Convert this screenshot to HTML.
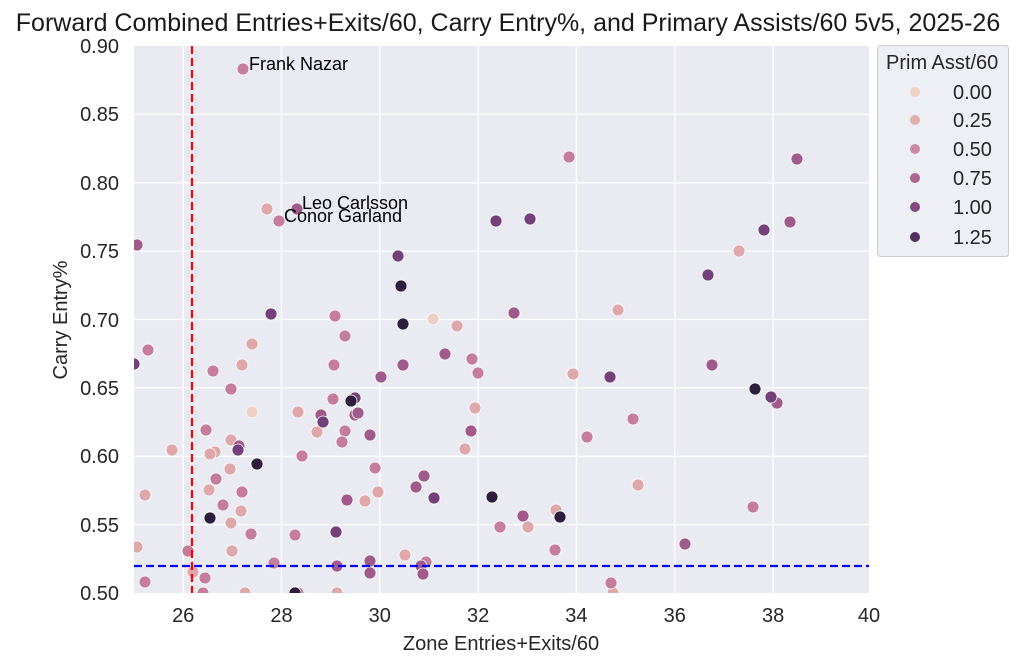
<!DOCTYPE html>
<html><head><meta charset="utf-8"><style>body{margin:0;background:#fff}svg{display:block;font-family:"Liberation Sans",Arial,sans-serif}</style></head><body>
<svg width="1024" height="669" xmlns="http://www.w3.org/2000/svg">
<rect width="1024" height="669" fill="#fff"/>
<text x="508" y="31" font-size="25" text-anchor="middle" fill="#1a1a1a">Forward Combined Entries+Exits/60, Carry Entry%, and Primary Assists/60 5v5, 2025-26</text>
<rect x="134" y="46" width="735" height="547" fill="#eaeaf2"/>
<g stroke="#fff" stroke-width="1.3">
<line x1="183.2" y1="46" x2="183.2" y2="593"/><line x1="281.5" y1="46" x2="281.5" y2="593"/><line x1="379.8" y1="46" x2="379.8" y2="593"/><line x1="478.1" y1="46" x2="478.1" y2="593"/><line x1="576.4" y1="46" x2="576.4" y2="593"/><line x1="674.8" y1="46" x2="674.8" y2="593"/><line x1="773.1" y1="46" x2="773.1" y2="593"/>
<line x1="134" y1="114.4" x2="869" y2="114.4"/><line x1="134" y1="182.8" x2="869" y2="182.8"/><line x1="134" y1="251.1" x2="869" y2="251.1"/><line x1="134" y1="319.5" x2="869" y2="319.5"/><line x1="134" y1="387.9" x2="869" y2="387.9"/><line x1="134" y1="456.3" x2="869" y2="456.3"/><line x1="134" y1="524.6" x2="869" y2="524.6"/>
</g>
<svg x="134" y="46" width="735" height="547" viewBox="134 46 735 547" overflow="hidden">
<g stroke="#fff" stroke-width="0.8">
<g fill="#edd0c5"><circle cx="252" cy="412" r="6"/><circle cx="433" cy="319" r="6"/></g>
<g fill="#dea8aa"><circle cx="267" cy="209" r="6"/><circle cx="172" cy="450" r="6"/><circle cx="145" cy="495" r="6"/><circle cx="137" cy="547" r="6"/><circle cx="193" cy="572" r="6"/><circle cx="245" cy="593" r="6"/><circle cx="337" cy="593" r="6"/><circle cx="613" cy="593" r="6"/><circle cx="252" cy="344" r="6"/><circle cx="242" cy="365" r="6"/><circle cx="231" cy="440" r="6"/><circle cx="215" cy="452" r="6"/><circle cx="210" cy="454" r="6"/><circle cx="209" cy="490" r="6"/><circle cx="230" cy="469" r="6"/><circle cx="231" cy="523" r="6"/><circle cx="241" cy="511" r="6"/><circle cx="232" cy="551" r="6"/><circle cx="298" cy="412" r="6"/><circle cx="317" cy="432" r="6"/><circle cx="365" cy="501" r="6"/><circle cx="378" cy="492" r="6"/><circle cx="405" cy="555" r="6"/><circle cx="457" cy="326" r="6"/><circle cx="475" cy="408" r="6"/><circle cx="465" cy="449" r="6"/><circle cx="573" cy="374" r="6"/><circle cx="618" cy="310" r="6"/><circle cx="638" cy="485" r="6"/><circle cx="556" cy="510" r="6"/><circle cx="528" cy="527" r="6"/><circle cx="739" cy="251" r="6"/></g>
<g fill="#c47e9b"><circle cx="243" cy="69" r="6"/><circle cx="279" cy="221" r="6"/><circle cx="148" cy="350" r="6"/><circle cx="145" cy="582" r="6"/><circle cx="188" cy="551" r="6"/><circle cx="205" cy="578" r="6"/><circle cx="203" cy="593" r="6"/><circle cx="298" cy="593" r="6"/><circle cx="611" cy="583" r="6"/><circle cx="213" cy="371" r="6"/><circle cx="231" cy="389" r="6"/><circle cx="206" cy="430" r="6"/><circle cx="216" cy="479" r="6"/><circle cx="223" cy="505" r="6"/><circle cx="242" cy="492" r="6"/><circle cx="251" cy="534" r="6"/><circle cx="274" cy="563" r="6"/><circle cx="302" cy="456" r="6"/><circle cx="295" cy="535" r="6"/><circle cx="335" cy="316" r="6"/><circle cx="345" cy="336" r="6"/><circle cx="334" cy="365" r="6"/><circle cx="333" cy="399" r="6"/><circle cx="345" cy="431" r="6"/><circle cx="342" cy="442" r="6"/><circle cx="375" cy="468" r="6"/><circle cx="426" cy="562" r="6"/><circle cx="472" cy="359" r="6"/><circle cx="478" cy="373" r="6"/><circle cx="500" cy="527" r="6"/><circle cx="569" cy="157" r="6"/><circle cx="587" cy="437" r="6"/><circle cx="633" cy="419" r="6"/><circle cx="555" cy="550" r="6"/><circle cx="753" cy="507" r="6"/></g>
<g fill="#a05b8b"><circle cx="297" cy="209" r="6"/><circle cx="137" cy="245" r="6"/><circle cx="239" cy="446" r="6"/><circle cx="321" cy="415" r="6"/><circle cx="355" cy="415" r="6"/><circle cx="358" cy="413" r="6"/><circle cx="370" cy="435" r="6"/><circle cx="347" cy="500" r="6"/><circle cx="337" cy="566" r="6"/><circle cx="370" cy="561" r="6"/><circle cx="370" cy="573" r="6"/><circle cx="403" cy="365" r="6"/><circle cx="381" cy="377" r="6"/><circle cx="421" cy="566" r="6"/><circle cx="423" cy="574" r="6"/><circle cx="416" cy="487" r="6"/><circle cx="424" cy="476" r="6"/><circle cx="445" cy="354" r="6"/><circle cx="471" cy="431" r="6"/><circle cx="514" cy="313" r="6"/><circle cx="523" cy="516" r="6"/><circle cx="685" cy="544" r="6"/><circle cx="712" cy="365" r="6"/><circle cx="790" cy="222" r="6"/><circle cx="797" cy="159" r="6"/><circle cx="777" cy="403" r="6"/></g>
<g fill="#74407a"><circle cx="134" cy="364" r="6"/><circle cx="271" cy="314" r="6"/><circle cx="238" cy="450" r="6"/><circle cx="323" cy="422" r="6"/><circle cx="355" cy="398" r="6"/><circle cx="336" cy="532" r="6"/><circle cx="398" cy="256" r="6"/><circle cx="434" cy="498" r="6"/><circle cx="496" cy="221" r="6"/><circle cx="530" cy="219" r="6"/><circle cx="610" cy="377" r="6"/><circle cx="708" cy="275" r="6"/><circle cx="764" cy="230" r="6"/><circle cx="771" cy="397" r="6"/></g>
<g fill="#2d1e3e"><circle cx="295" cy="593" r="6"/><circle cx="257" cy="464" r="6"/><circle cx="210" cy="518" r="6"/><circle cx="351" cy="401" r="6"/><circle cx="401" cy="286" r="6"/><circle cx="403" cy="324" r="6"/><circle cx="492" cy="497" r="6"/><circle cx="560" cy="517" r="6"/><circle cx="755" cy="389" r="6"/></g>
</g></svg>
<line x1="192" y1="46" x2="192" y2="593" stroke="#f00" stroke-width="2.2" stroke-dasharray="8,4"/>
<line x1="134" y1="566" x2="869" y2="566" stroke="#00f" stroke-width="2.2" stroke-dasharray="8,4"/>
<g font-size="18" fill="#000">
<text x="249" y="70">Frank Nazar</text><text x="302" y="209">Leo Carlsson</text><text x="284" y="222">Conor Garland</text>
</g>
<g font-size="20" fill="#262626" text-anchor="middle">
<text x="183.2" y="622">26</text><text x="281.5" y="622">28</text><text x="379.8" y="622">30</text><text x="478.1" y="622">32</text><text x="576.4" y="622">34</text><text x="674.8" y="622">36</text><text x="773.1" y="622">38</text><text x="869" y="622">40</text>
</g>
<text x="501" y="650" font-size="20" fill="#262626" text-anchor="middle">Zone Entries+Exits/60</text>
<g font-size="20" fill="#262626" text-anchor="end">
<text x="119" y="53">0.90</text><text x="119" y="121">0.85</text><text x="119" y="190">0.80</text><text x="119" y="258">0.75</text><text x="119" y="327">0.70</text><text x="119" y="395">0.65</text><text x="119" y="463">0.60</text><text x="119" y="532">0.55</text><text x="119" y="600">0.50</text>
</g>
<text transform="translate(67,320) rotate(-90)" font-size="20" fill="#262626" text-anchor="middle">Carry Entry%</text>
<rect x="877.5" y="45.5" width="131" height="211" rx="3" fill="#eaeaf2" fill-opacity="0.8" stroke="#ccc"/>
<g font-size="20" fill="#262626">
<text x="886" y="69">Prim Asst/60</text>
<text x="953" y="99">0.00</text><text x="953" y="127">0.25</text><text x="953" y="156">0.50</text><text x="953" y="185">0.75</text><text x="953" y="214">1.00</text><text x="953" y="244">1.25</text>
</g>
<circle cx="915" cy="92" r="5" fill="#efd1c6"/><circle cx="915" cy="120" r="5" fill="#e2aeac"/><circle cx="915" cy="149" r="5" fill="#cb8aa0"/><circle cx="915" cy="178" r="5" fill="#aa6590"/><circle cx="915" cy="207" r="5" fill="#844883"/><circle cx="915" cy="237" r="5" fill="#53305e"/>
</svg>
</body></html>
